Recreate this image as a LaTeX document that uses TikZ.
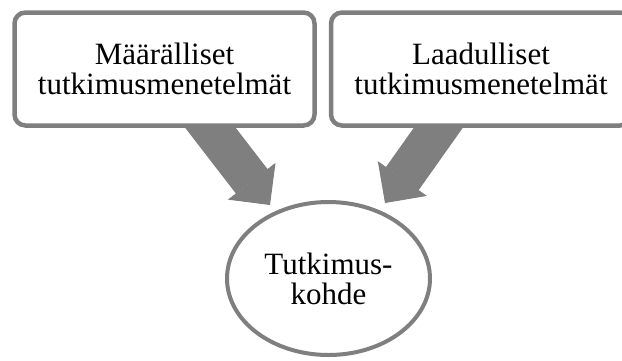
\documentclass[tikz,border=0pt]{standalone}
\usepackage{fontspec}
\setmainfont{Liberation Serif}
\usetikzlibrary{arrows.meta,shapes.geometric,positioning,backgrounds}
\definecolor{linegray}{HTML}{7F7F7F}

\begin{document}
\begin{tikzpicture}[
    x=1pt, y=-1pt,
    box/.style={draw=linegray, line width=4.5pt, rounded corners=11pt, fill=white, minimum width=300pt, minimum height=113pt, align=center, font=\fontsize{31}{30}\selectfont},
    target/.style={draw=linegray, line width=4pt, ellipse, fill=white, minimum width=203pt, minimum height=153pt, align=center, font=\fontsize{31}{30}\selectfont},
    bigarr/.style={draw=linegray, fill=linegray, line width=40pt, -{Triangle[length=30pt, width=60pt, line width=1pt]}}
]
\clip (0,0) rectangle (622,360);
\node[box] (M) at (164.5,69) {Määrälliset\\tutkimusmenetelmät};
\node[box] (L) at (481,69) {Laadulliset\\tutkimusmenetelmät};
\node[target] (K) at (328.5,278.5) {Tutkimus-\\kohde};

\coordinate (m1) at (189,100);
\coordinate (m2) at (270,205);
\coordinate (l1) at (458,100);
\coordinate (l2) at (385,203);

\begin{scope}[on background layer]
\draw[bigarr] (m1) -- (m2);
\draw[bigarr] (l1) -- (l2);
\end{scope}
\end{tikzpicture}
\end{document}
